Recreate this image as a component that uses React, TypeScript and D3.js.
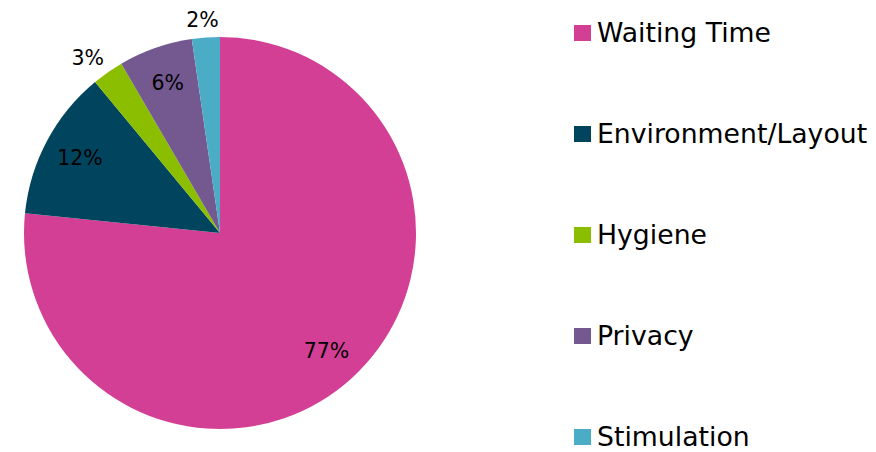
import React from "react";
import * as d3 from "d3";

const categories = ["Waiting Time", "Environment/Layout", "Hygiene", "Privacy", "Stimulation"];
const values = [76.6, 12.4, 2.6, 6.1, 2.3];
const labels = ["77%", "12%", "3%", "6%", "2%"];
const colors = ["#D43F96", "#00445E", "#8CBE00", "#735990", "#4BACC6"];
const outside = [false, false, true, false, true];

export default function App() {
  const W = 876, H = 452;
  const cx = 220, cy = 233, R = 196;
  const pie = d3.pie<number>().sort(null).value((d) => d)(values);
  const arc = d3.arc<d3.PieArcDatum<number>>().innerRadius(0).outerRadius(R);
  const font = "Tahoma, 'DejaVu Sans', Verdana, sans-serif";
  const legendY = d3.scalePoint<string>().domain(categories).range([33, 437]);
  const lw = 31, lh = 20;
  return (
    <svg width={W} height={H} style={{ position: "absolute", left: 0, top: 0 }}>
      <g transform={`translate(${cx},${cy})`}>
        {pie.map((p, i) => (
          <path key={i} d={arc(p) || ""} fill={colors[i]} />
        ))}
        {pie.map((p, i) => {
          const a = (p.startAngle + p.endAngle) / 2;
          const s = Math.sin(a), c = Math.cos(a);
          let x: number, y: number;
          if (outside[i]) {
            const r = R + 8;
            const xo = Math.sign(s) * Math.min(1, Math.abs(s) * 2.5) * lw / 2;
            x = s * r + xo;
            y = -c * r - c * lh / 2;
          } else {
            const r = R * 0.81;
            x = s * r;
            y = -c * r;
          }
          return (
            <text key={i} x={x} y={y} dy="0.35em" textAnchor="middle" fontFamily={font} fontSize={20.5} fill="#000">
              {labels[i]}
            </text>
          );
        })}
      </g>
      {categories.map((c, i) => {
        const y = legendY(c) as number;
        return (
          <g key={c}>
            <rect x={574} y={y - 8} width={17} height={16} fill={colors[i]} />
            <text x={597} y={y} dy="0.35em" fontFamily={font} fontSize={26.7} fill="#000">
              {c}
            </text>
          </g>
        );
      })}
    </svg>
  );
}
